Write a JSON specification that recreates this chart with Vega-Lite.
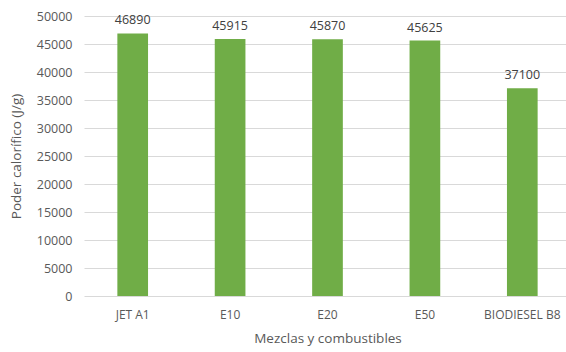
{
  "$schema": "https://vega.github.io/schema/vega-lite/v6.json",
  "autosize": "none",
  "width": 487,
  "height": 280,
  "padding": {"left": 84, "top": 16, "right": 0, "bottom": 56},
  "background": "white",
  "config": {
    "view": {"stroke": null},
    "font": "Open Sans",
    "axis": {"labelColor": "#595959", "titleColor": "#595959", "labelFont": "Open Sans", "titleFont": "Open Sans", "titleFontWeight": "normal"}
  },
  "data": {
    "values": [
      {"mezcla": "JET A1", "valor": 46890},
      {"mezcla": "E10", "valor": 45915},
      {"mezcla": "E20", "valor": 45870},
      {"mezcla": "E50", "valor": 45625},
      {"mezcla": "BIODIESEL B8", "valor": 37100}
    ]
  },
  "encoding": {
    "x": {
      "field": "mezcla",
      "type": "nominal",
      "sort": null,
      "scale": {"paddingInner": 0.685, "paddingOuter": 0.3425},
      "axis": {
        "title": "Mezclas y combustibles",
        "titleFontSize": 13.5,
        "titlePadding": 11,
        "labelFontSize": 12,
        "labelAngle": 0,
        "labelPadding": 13,
        "ticks": false,
        "domain": false
      }
    },
    "y": {
      "field": "valor",
      "type": "quantitative",
      "scale": {"domain": [0, 50000]},
      "axis": {
        "title": "Poder calorífico (J/g)",
        "titleFontSize": 13.5,
        "titlePadding": 13,
        "labelFontSize": 12.5,
        "labelPadding": 12,
        "labelOverlap": false,
        "values": [0, 5000, 10000, 15000, 20000, 25000, 30000, 35000, 40000, 45000, 50000],
        "format": "d",
        "ticks": false,
        "domain": false,
        "gridColor": "#d9d9d9",
        "gridWidth": 1
      }
    }
  },
  "layer": [
    {"mark": {"type": "bar", "color": "#70AD47"}},
    {
      "mark": {"type": "text", "baseline": "bottom", "dy": -6, "fontSize": 12.5, "color": "#404040"},
      "encoding": {"text": {"field": "valor", "type": "quantitative", "format": "d"}}
    }
  ]
}
